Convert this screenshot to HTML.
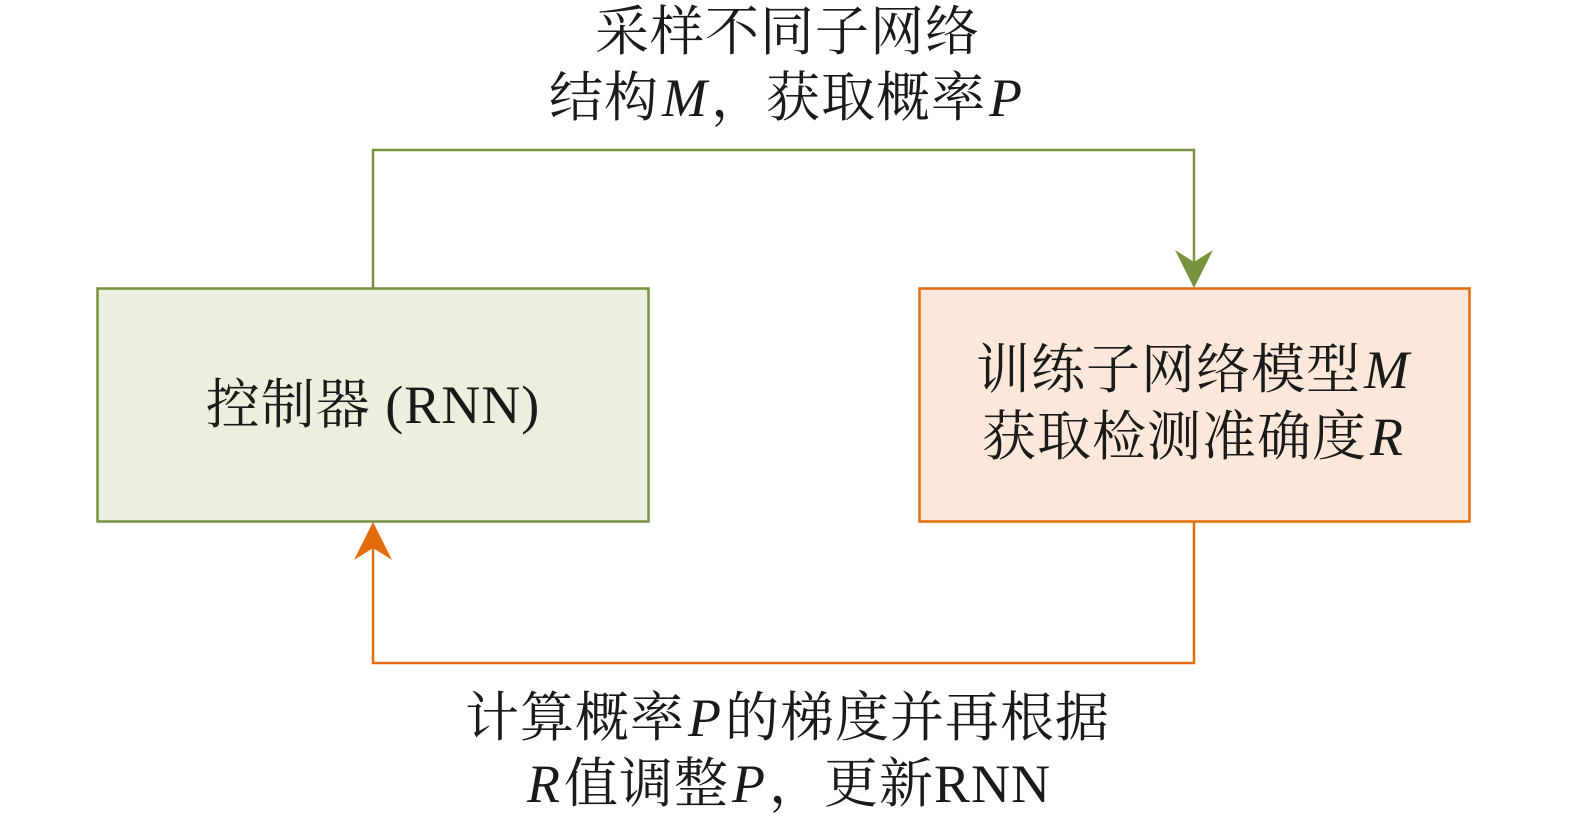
<!DOCTYPE html>
<html><head><meta charset="utf-8"><style>
body{margin:0;background:#fff;width:1575px;height:823px;overflow:hidden;position:relative;font-family:"Liberation Serif","Noto Serif CJK SC",serif;}
.t{position:absolute;left:0;width:1575px;text-align:center;font-size:54px;line-height:60px;color:#1a1a1a;white-space:nowrap;letter-spacing:1px}
i{font-family:"Liberation Serif",serif;font-style:italic;padding:0 3px}
</style></head><body>
<svg width="1575" height="823" style="position:absolute;left:0;top:0">
<rect x="97.5" y="288.5" width="551" height="233" fill="#ebf0de" stroke="#77933c" stroke-width="2.5"/>
<rect x="919.5" y="288.5" width="550" height="233" fill="#fce8da" stroke="#e46c0a" stroke-width="2.5"/>
<polyline points="373,288 373,150 1194,150 1194,262" fill="none" stroke="#77933c" stroke-width="2.5"/>
<polygon points="1175,250 1194,288 1213,250 1194,262" fill="#77933c"/>
<polyline points="1194,522 1194,663 373,663 373,548" fill="none" stroke="#e46c0a" stroke-width="2.5"/>
<polygon points="354,560 373,522 392,560 373,548" fill="#e46c0a"/>
</svg>
<div class="t" style="top:2px;left:0">采样不同子网络</div>
<div class="t" style="top:68px;left:0">结构<i>M</i>，获取概率<i>P</i></div>
<div class="t" style="top:375px;left:97px;width:552px">控制器 (RNN)</div>
<div class="t" style="top:340px;left:919px;width:551px">训练子网络模型<i>M</i></div>
<div class="t" style="top:407px;left:919px;width:551px">获取检测准确度<i>R</i></div>
<div class="t" style="top:688px;left:0">计算概率<i>P</i>的梯度并再根据</div>
<div class="t" style="top:754px;left:0"><i>R</i>值调整<i>P</i>，更新RNN</div>
</body></html>
